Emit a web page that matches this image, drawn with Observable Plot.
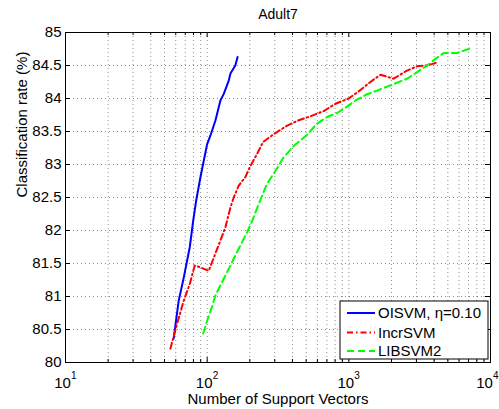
<!DOCTYPE html>
<html>
<head>
<meta charset="utf-8">
<script src="https://cdn.jsdelivr.net/npm/d3@7"></script>
<script src="https://cdn.jsdelivr.net/npm/@observablehq/plot@0.6"></script>
<style>
  html, body { margin: 0; padding: 0; background: white; }
  #chart { width: 499px; height: 409px; overflow: hidden; }
</style>
</head>
<body>
<div id="chart"></div>
<script>
// ---- Data ----
const title = "Adult7";
const xLabel = "Number of Support Vectors";
const yLabel = "Classification rate (%)";

const oisvmSV   = [58, 63, 68.4, 75.4, 79.7, 83.6, 89.7, 100, 105.5, 114.5, 124, 131, 142, 146, 158, 164];
const oisvmRate = [80.36, 80.94, 81.29, 81.75, 82.15, 82.45, 82.81, 83.31, 83.44, 83.67, 83.97, 84.07, 84.27, 84.38, 84.5, 84.63];

const incrSV   = [55, 61.4, 68.4, 75.4, 81.7, 89.7, 102.6, 117.6, 134.6, 146, 154, 167, 186, 202, 225, 248, 295, 367, 443, 536, 665, 804, 1000, 1194, 1420, 1671, 2075, 2512, 3036, 3573, 4265];
const incrRate = [80.21, 80.59, 80.94, 81.19, 81.47, 81.44, 81.39, 81.72, 82.05, 82.35, 82.5, 82.68, 82.81, 82.98, 83.16, 83.34, 83.46, 83.59, 83.67, 83.73, 83.81, 83.92, 84.0, 84.12, 84.25, 84.36, 84.3, 84.41, 84.49, 84.5, 84.55];

const libsvmSV   = [93.7, 101, 108, 114.5, 124, 146, 163, 191, 208, 231, 265, 303, 347, 408, 508, 597, 703, 826, 961, 1114, 1331, 1585, 1862, 2193, 2579, 3036, 3573, 4083, 4677, 5807, 7015, 7211];
const libsvmRate = [80.44, 80.66, 80.84, 81.02, 81.17, 81.47, 81.68, 81.97, 82.15, 82.4, 82.71, 82.9, 83.11, 83.28, 83.45, 83.62, 83.72, 83.78, 83.87, 83.97, 84.06, 84.12, 84.18, 84.24, 84.3, 84.4, 84.5, 84.6, 84.69, 84.69, 84.75, 84.78];

const seriesNames = ["OISVM, \u03b7=0.10", "IncrSVM", "LIBSVM2"];

const xMajorTicks = [10, 100, 1000, 10000];
const xExponents  = ["1", "2", "3", "4"];
const xMinorTicks = [20,30,40,50,60,70,80,90,200,300,400,500,600,700,800,900,2000,3000,4000,5000,6000,7000,8000,9000];
const yTicks = [80, 80.5, 81, 81.5, 82, 82.5, 83, 83.5, 84, 84.5, 85];

// ---- Build tables ----
const zip = (xs, ys) => xs.map((v, i) => ({sv: v, rate: ys[i]}));
const oisvm = zip(oisvmSV, oisvmRate);
const incr = zip(incrSV, incrRate);
const libsvm = zip(libsvmSV, libsvmRate);

const W = 499, H = 409, mL = 65, mR = 9, mT = 32, mB = 47;
const innerW = W - mL - mR, innerH = H - mT - mB;
const font = "'Liberation Sans', Arial, Helvetica, sans-serif";

const colors = ["#0000ff", "#ff0000", "#00ff00"];
const dashes = [null, "6,3,1.5,3", "7,4"];

const gridStyle = {stroke: "#000", strokeOpacity: 0.45, strokeDasharray: "1,3", strokeWidth: 1};
// keep the last x label inside the picture
const labelShift = d => (d === 10000 ? -3 : 0);

const chart = Plot.plot({
  width: W, height: H,
  marginLeft: mL, marginRight: mR, marginTop: mT, marginBottom: mB,
  x: {type: "log", domain: [10, 10000], axis: null},
  y: {domain: [80, 85], axis: null},
  style: {fontFamily: font, fontSize: "15px", background: "white", overflow: "visible", color: "black"},
  marks: [
    // grid
    Plot.ruleX(xMinorTicks.concat([100, 1000]), {x: d => d, ...gridStyle}),
    Plot.ruleY(yTicks.filter(d => d > 80 && d < 85), {y: d => d, ...gridStyle}),
    // series
    Plot.line(oisvm, {x: "sv", y: "rate", stroke: colors[0], strokeWidth: 2}),
    Plot.line(incr, {x: "sv", y: "rate", stroke: colors[1], strokeWidth: 2, strokeDasharray: dashes[1]}),
    Plot.line(libsvm, {x: "sv", y: "rate", stroke: colors[2], strokeWidth: 2, strokeDasharray: dashes[2]}),
    // frame
    Plot.frame({stroke: "black", strokeWidth: 1}),
    // ticks (inward, all four sides)
    Plot.tickX(xMajorTicks, {x: d => d, insetTop: innerH - 5, stroke: "black"}),
    Plot.tickX(xMajorTicks, {x: d => d, insetBottom: innerH - 5, stroke: "black"}),
    Plot.tickX(xMinorTicks, {x: d => d, insetTop: innerH - 3, stroke: "black"}),
    Plot.tickX(xMinorTicks, {x: d => d, insetBottom: innerH - 3, stroke: "black"}),
    Plot.tickY(yTicks, {y: d => d, insetRight: innerW - 5, stroke: "black"}),
    Plot.tickY(yTicks, {y: d => d, insetLeft: innerW - 5, stroke: "black"}),
    // y tick labels
    Plot.text(yTicks, {y: d => d, frameAnchor: "left", dx: -4, textAnchor: "end", text: d => String(d), fontSize: 15}),
    // x tick labels: 10 with superscript exponent
    Plot.text(xMajorTicks.filter(d => d < 10000), {x: d => d, frameAnchor: "bottom", dx: -3, dy: 25, lineAnchor: "bottom", textAnchor: "middle", text: () => "10", fontSize: 15}),
    Plot.text(xMajorTicks.filter(d => d < 10000), {x: d => d, frameAnchor: "bottom", dx: 5.5, dy: 16, lineAnchor: "bottom", textAnchor: "start", text: d => xExponents[xMajorTicks.indexOf(d)], fontSize: 10}),
    Plot.text(xMajorTicks.filter(d => d === 10000), {x: d => d, frameAnchor: "bottom", dx: -6, dy: 25, lineAnchor: "bottom", textAnchor: "middle", text: () => "10", fontSize: 15}),
    Plot.text(xMajorTicks.filter(d => d === 10000), {x: d => d, frameAnchor: "bottom", dx: 2.5, dy: 16, lineAnchor: "bottom", textAnchor: "start", text: d => xExponents[xMajorTicks.indexOf(d)], fontSize: 10}),
    // title and axis labels
    Plot.text([title], {frameAnchor: "top", dy: -14, lineAnchor: "bottom", text: d => d, fontSize: 14}),
    Plot.text([xLabel], {frameAnchor: "bottom", dy: 41, lineAnchor: "bottom", text: d => d, fontSize: 15}),
    Plot.text([yLabel], {frameAnchor: "left", dx: -39, rotate: -90, lineAnchor: "bottom", text: d => d, fontSize: 15})
  ]
});

document.getElementById("chart").appendChild(chart);

// ---- Legend (inside the axes, lower right) ----
const svg = d3.select(chart);
const lg = svg.append("g").attr("transform", "translate(340,301)")
  .attr("text-anchor", "start")
  .style("font-family", font).style("font-size", "15px");
lg.append("rect").attr("width", 148).attr("height", 58)
  .attr("fill", "white").attr("stroke", "black").attr("stroke-width", 1);
const rowY = [12, 31.5, 50];
seriesNames.forEach((name, i) => {
  lg.append("line").attr("x1", 7).attr("x2", 35).attr("y1", rowY[i]).attr("y2", rowY[i])
    .attr("stroke", colors[i]).attr("stroke-width", 2)
    .attr("stroke-dasharray", dashes[i]);
  lg.append("text").attr("x", 38).attr("y", rowY[i]).attr("dy", "0.36em")
    .attr("text-anchor", "start")
    .attr("fill", "black").text(name);
});
</script>
</body>
</html>
